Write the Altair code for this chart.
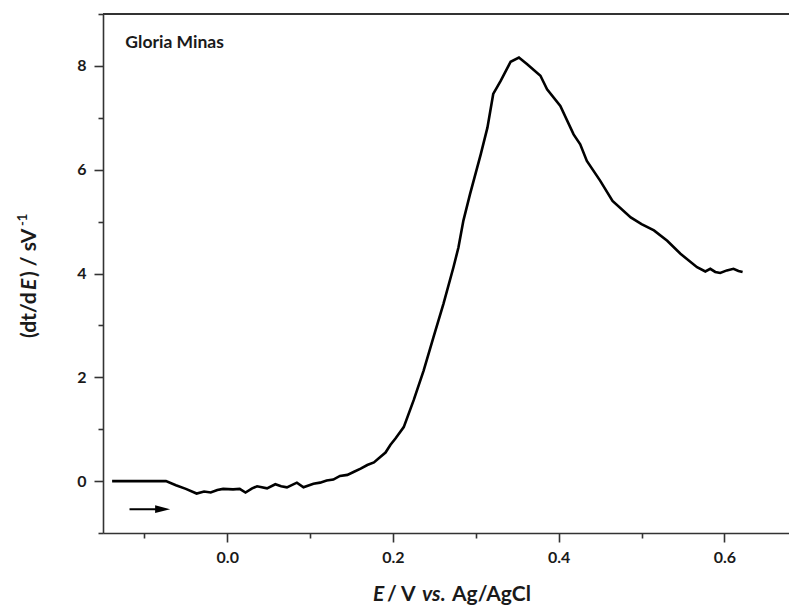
import altair as alt
import pandas as pd

# Potential E (V vs. Ag/AgCl)
E = [-0.139, -0.074, -0.062, -0.050, -0.037, -0.028, -0.020, -0.012, -0.005,
     0.007, 0.015, 0.022, 0.030, 0.036, 0.048, 0.058, 0.065, 0.072, 0.084,
     0.092, 0.104, 0.112, 0.120, 0.128, 0.136, 0.145, 0.153, 0.161, 0.169,
     0.177, 0.185, 0.191, 0.197, 0.203, 0.213, 0.225, 0.237, 0.249, 0.261,
     0.273, 0.279, 0.285, 0.293, 0.306, 0.314, 0.321, 0.330, 0.342, 0.352,
     0.362, 0.378, 0.386, 0.402, 0.418, 0.426, 0.434, 0.450, 0.465, 0.487,
     0.500, 0.515, 0.531, 0.547, 0.567, 0.577, 0.583, 0.589, 0.595, 0.603,
     0.611, 0.617, 0.622]
# dt/dE (s V^-1)
DTDE = [0.0, 0.0, -0.08, -0.15, -0.24, -0.20, -0.22, -0.17, -0.15,
        -0.16, -0.15, -0.22, -0.14, -0.10, -0.14, -0.06, -0.10, -0.12, -0.03,
        -0.12, -0.05, -0.03, 0.01, 0.03, 0.10, 0.12, 0.18, 0.24, 0.31,
        0.36, 0.47, 0.55, 0.70, 0.82, 1.04, 1.56, 2.13, 2.78, 3.42,
        4.12, 4.50, 5.02, 5.53, 6.30, 6.81, 7.46, 7.71, 8.08, 8.16,
        8.03, 7.81, 7.55, 7.23, 6.68, 6.49, 6.17, 5.79, 5.40, 5.08,
        4.95, 4.83, 4.63, 4.38, 4.12, 4.04, 4.09, 4.03, 4.01, 4.06,
        4.09, 4.05, 4.03]

X_DOMAIN = [-0.15, 0.678]
Y_DOMAIN = [-1, 9]
X_TICKS = [-0.1, 0.0, 0.1, 0.2, 0.3, 0.4, 0.5, 0.6]
Y_TICKS = [-1, 0, 1, 2, 3, 4, 5, 6, 7, 8, 9]

# scan-direction arrow (annotation)
ARROW_X = [-0.118, -0.078]
ARROW_Y = [-0.54, -0.54]
LABEL_TEXT = ["Gloria Minas"]
LABEL_X = [-0.123]
LABEL_Y = [8.44]

# axis titles, split so that the italic parts can be italic
XTITLE_TEXT = ["E", "/ V", "vs.", "Ag/AgCl"]
XTITLE_STYLE = ["italic", "normal", "italic", "normal"]
YTITLE_TEXT = ["(dt/d", "E", ") / sV"]
YTITLE_STYLE = ["normal", "italic", "normal"]

FONT = "Lato"
AXIS_COLOR = "#333333"
TEXT_COLOR = "#1a1a1a"

df = pd.DataFrame({"E": E, "v": DTDE})
arrow_df = pd.DataFrame({"x": ARROW_X, "y": ARROW_Y})
head_df = pd.DataFrame({"x": [ARROW_X[1]], "y": [ARROW_Y[1]]})
label_df = pd.DataFrame({"t": LABEL_TEXT, "x": LABEL_X, "y": LABEL_Y})

xscale = alt.Scale(domain=X_DOMAIN, nice=False, zero=False)
yscale = alt.Scale(domain=Y_DOMAIN, nice=False, zero=False)

xaxis = alt.Axis(
    values=X_TICKS,
    labelExpr="round(datum.value*10) % 2 == 0 ? format(datum.value, '.1f') : ''",
    tickSize={"condition": {"test": "round(datum.value*10) % 2 == 0", "value": 9}, "value": 5},
    labelPadding=7,
    grid=False,
    title=None,
)
yaxis = alt.Axis(
    values=Y_TICKS,
    labelExpr="datum.value % 2 == 0 ? format(datum.value, 'd') : ''",
    tickSize={"condition": {"test": "datum.value % 2 == 0", "value": 9}, "value": 5},
    labelPadding=8,
    grid=False,
    title=None,
)

curve = alt.Chart(df).mark_line(color="black", strokeWidth=2.6, clip=True).encode(
    x=alt.X("E:Q", scale=xscale, axis=xaxis),
    y=alt.Y("v:Q", scale=yscale, axis=yaxis),
)

top = alt.Chart(pd.DataFrame({"y": [Y_DOMAIN[1]]})).mark_rule(
    color=AXIS_COLOR, strokeWidth=1.8
).encode(y=alt.Y("y:Q", scale=yscale))

arrow = alt.Chart(arrow_df).mark_line(color="black", strokeWidth=2).encode(
    x=alt.X("x:Q", scale=xscale), y=alt.Y("y:Q", scale=yscale)
)
head = alt.Chart(head_df).mark_point(
    shape="M-1,-0.53L1,0L-1,0.53Z", filled=True, color="black", size=225, opacity=1
).encode(x=alt.X("x:Q", scale=xscale), y=alt.Y("y:Q", scale=yscale))

label = alt.Chart(label_df).mark_text(
    align="left", baseline="middle", font=FONT, fontWeight="bold", fontSize=17.5, color=TEXT_COLOR
).encode(x=alt.X("x:Q", scale=xscale), y=alt.Y("y:Q", scale=yscale), text="t:N")

# x-axis title pieces (pixel positions relative to the plot area)
XT_POS = [270, 284, 319, 349]
xt_layers = []
for txt, sty, px in zip(XTITLE_TEXT, XTITLE_STYLE, XT_POS):
    xt_layers.append(
        alt.Chart(pd.DataFrame({"t": [txt]})).mark_text(
            align="left", baseline="alphabetic", font=FONT, fontWeight="bold",
            fontStyle=sty, fontSize=21, color=TEXT_COLOR,
        ).encode(x=alt.value(px), y=alt.value(587), text="t:N")
    )

# y-axis title pieces (rotated, read bottom to top)
YT_POS = [324, 276, 263]
yt_layers = []
for txt, sty, py in zip(YTITLE_TEXT, YTITLE_STYLE, YT_POS):
    yt_layers.append(
        alt.Chart(pd.DataFrame({"t": [txt]})).mark_text(
            align="left", baseline="alphabetic", angle=270, font=FONT, fontWeight="bold",
            fontStyle=sty, fontSize=21, color=TEXT_COLOR,
        ).encode(x=alt.value(-67), y=alt.value(py), text="t:N")
    )
yt_layers.append(
    alt.Chart(pd.DataFrame({"t": ["-1"]})).mark_text(
        align="left", baseline="alphabetic", angle=270, font=FONT, fontWeight="bold",
        fontSize=13, color=TEXT_COLOR,
    ).encode(x=alt.value(-76), y=alt.value(212), text="t:N")
)

chart = alt.layer(curve, top, arrow, head, label, *xt_layers, *yt_layers).properties(
    width=686, height=519,
    autosize=alt.AutoSizeParams(type="none"),
    padding={"left": 95, "top": 6, "right": 0, "bottom": 72},
).configure_view(stroke=None).configure_axis(
    domainColor=AXIS_COLOR, domainWidth=1.6, tickColor=AXIS_COLOR, tickWidth=1.6,
    labelFont=FONT, labelFontWeight="bold", labelFontSize=16, labelColor=TEXT_COLOR,
)

chart.save("out.html", embed_options={"renderer": "svg", "actions": False})
